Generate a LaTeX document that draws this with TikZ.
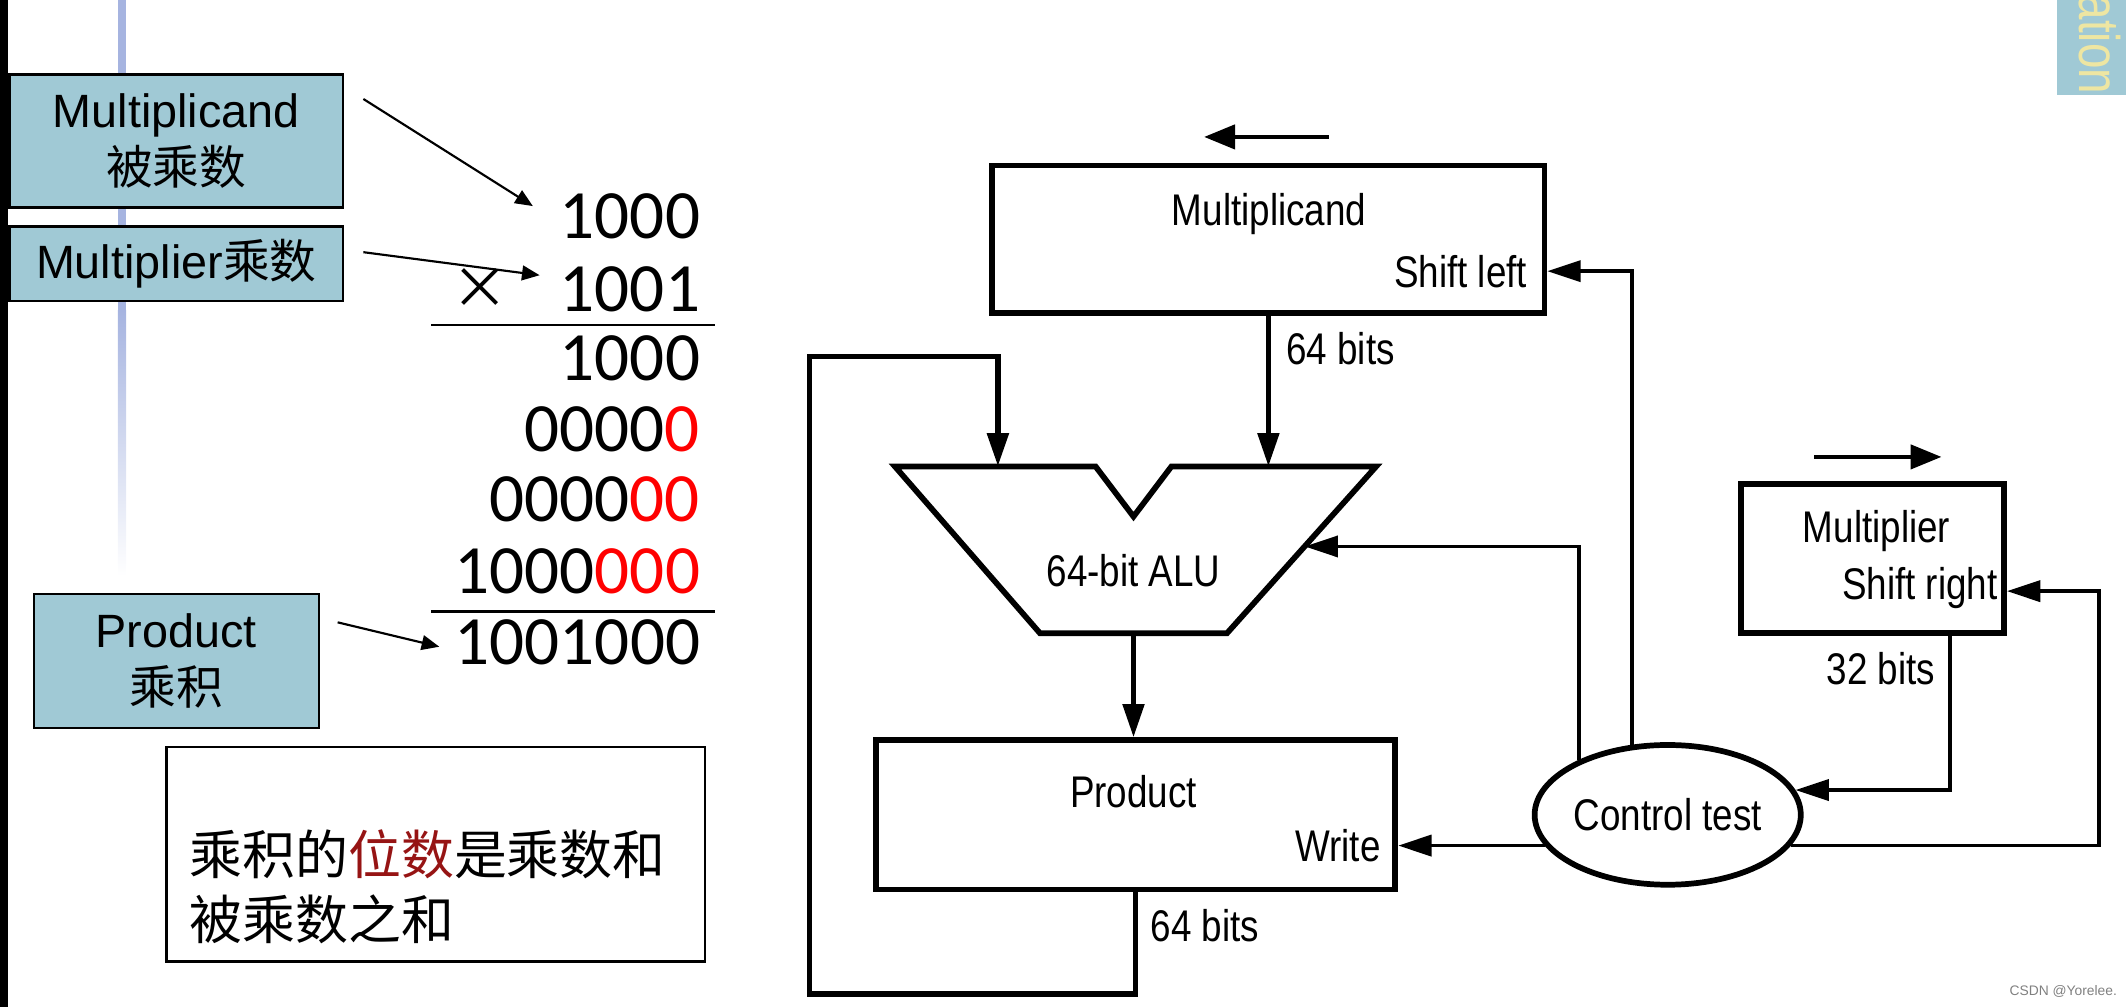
\documentclass[tikz,border=0pt]{standalone}
\usepackage{fontspec}
\setmainfont{Liberation Sans}
\newfontfamily\cjk{Noto Sans CJK SC}
\newfontfamily\digitfont{Carlito}
\newfontfamily\dpfont{Liberation Sans}[FakeStretch=0.83]
\newfontfamily\tabfont{Liberation Sans}[FakeStretch=0.8]
\usepackage{xcolor}
\usetikzlibrary{shapes.geometric,arrows.meta,calc}
\definecolor{tagblue}{RGB}{160,201,213}
\definecolor{railblue}{RGB}{166,180,224}
\definecolor{darkred}{RGB}{150,20,20}
\definecolor{tabyellow}{RGB}{238,230,162}

\begin{document}
\begin{tikzpicture}[x=0.01cm,y=-0.01cm,line join=miter,
  tag/.style={draw,fill=tagblue,line width=0.5pt,inner sep=0pt,align=center,font=\fontsize{9.8}{11.9}\selectfont},
  digs/.style={anchor=base east,inner sep=0pt,font=\digitfont\fontsize{14.5}{17}\selectfont},
  ptr/.style={-{Triangle[length=3.7pt,width=3.1pt]},line width=0.45pt},
  reg/.style={draw,line width=1.2pt,inner sep=0pt},
  lbl/.style={inner sep=0pt,font=\dpfont\fontsize{9.3}{11}\selectfont},
  flow/.style={-{Triangle[length=7pt,width=4.4pt]},line width=0.8pt},
  data/.style={-{Triangle[length=7pt,width=4.4pt]},line width=1.1pt},
  bus/.style={-{Triangle[length=7pt,width=4.4pt]},line width=1.2pt},
  dir/.style={-{Triangle[length=6.5pt,width=5pt]},line width=1pt}]
\clip (0,0) rectangle (1568,743);
%%
\fill (0,0) rectangle (6,743);
\fill[railblue] (87,0) rectangle (93,230);
\shade[top color=railblue,bottom color=white] (87,229) rectangle (93,425);
\fill[tagblue] (1517,0) rectangle (1568,70);
\node (tab) at (1534,70) [rotate=-90,anchor=base east,inner sep=0pt,text=tabyellow,font=\tabfont\fontsize{12}{14}\selectfont] {ation};
%% paper multiplication
  \node (mcandtag) at (130,104) [tag,minimum width=2.46cm,minimum height=0.98cm] {Multiplicand\\{\cjk 被乘数}};
  \node (mplrtag) at (130,194.5) [tag,minimum width=2.46cm,minimum height=0.55cm] {Multiplier{\cjk 乘数}};
  \node (prodtag) at (130,487.5) [tag,minimum width=2.10cm,minimum height=0.99cm] {Product\\{\cjk 乘积}};
  \node (n1) at (517,176) [digs] {1000};
  \node (times) at (354,213) [inner sep=0pt,font=\cjk\fontsize{12}{14}\selectfont] {×};
  \node (n2) at (517,230) [digs] {1001};
  \node (n3) at (517,281) [digs] {1000};
  \node (n4) at (517,333) [digs] {0000\textcolor{red}{0}};
  \node (n5) at (517,385) [digs] {0000\textcolor{red}{00}};
  \node (n6) at (517,438) [digs] {1000\textcolor{red}{000}};
  \node (n7) at (517,490) [digs] {1001000};
  \node (sumbox) at (321.5,630) [draw,line width=0.5pt,minimum width=3.97cm,minimum height=1.58cm] {};
  \node (sumtxt) at (139,654) [anchor=west,inner sep=0pt,align=left,font=\cjk\fontsize{11.1}{13.7}\selectfont] {乘积的\textcolor{darkred}{位数}是乘数和\\被乘数之和};
  \coordinate (p1a) at (268,73);
  \coordinate (p1b) at (393,152);
  \coordinate (p2a) at (268,186);
  \coordinate (p2b) at (398,203);
  \coordinate (p3a) at (249,459);
  \coordinate (p3b) at (324,477);
  \draw [ptr] (p1a) -- (p1b);
  \draw [ptr] (p2a) -- (p2b);
  \draw [ptr] (p3a) -- (p3b);
  \draw [line width=0.45pt] (318,240) -- (527,240);
  \draw [line width=0.45pt] (318,451) -- (527,451);
%% datapath
  \node (mcand) at (935.5,176.5) [reg,minimum width=4.07cm,minimum height=1.09cm] {};
  \node (mcandname) at (936,158) [lbl] {Multiplicand};
  \node (shl) at (1127,200) [lbl,anchor=east] {Shift left};
  \node (bits1) at (948,257) [lbl,anchor=west] {64 bits};
  \coordinate (alu-tl) at (660,344);
  \coordinate (alu-n1) at (808,344);
  \coordinate (alu-v) at (836,381);
  \coordinate (alu-n2) at (864,344);
  \coordinate (alu-tr) at (1015,344);
  \coordinate (alu-br) at (905,467);
  \coordinate (alu-bl) at (767,467);
  \draw [line width=1.2pt] (alu-tl) -- (alu-n1) -- (alu-v) -- (alu-n2) -- (alu-tr) -- (alu-br) -- (alu-bl) -- cycle;
  \node (alu) at (836,421) [lbl] {64-bit ALU};
  \node (prod) at (837.5,601) [reg,minimum width=3.83cm,minimum height=1.10cm] {};
  \node (prodname) at (836,584) [lbl] {Product};
  \node (wr) at (1019,624) [lbl,anchor=east] {Write};
  \node (bits2) at (848,683) [lbl,anchor=west] {64 bits};
  \node (ctrl) at (1230,601) [reg,ellipse,minimum width=1.96cm,minimum height=1.03cm,font=\dpfont\fontsize{9.3}{11}\selectfont] {Control test};
  \node (mplier) at (1381,412) [reg,minimum width=1.94cm,minimum height=1.10cm] {};
  \node (mpliername) at (1384,392) [lbl] {Multiplier};
  \node (shr) at (1474,434) [lbl,anchor=east] {Shift right};
  \node (bits3) at (1428,493) [lbl,anchor=east] {32 bits};
  \coordinate (shl-a) at (980,101);
  \coordinate (shl-b) at (888,101);
  \coordinate (shr-a) at (1338,337);
  \coordinate (shr-b) at (1432,337);
  \coordinate (alu-in) at (736,344);
  \coordinate (alu-out) at (836,467);
  \coordinate (alu-rin) at ($(alu-tr)!0.48!(alu-br)$);
  \coordinate (lp-bl) at (597,733);
  \coordinate (lp-tl) at (597,263);
  \coordinate (m32) at (1438,467);
  \coordinate (srt) at (1548,436);
  \draw [dir] (shl-a) -- (shl-b);
  \draw [dir] (shr-a) -- (shr-b);
  \draw [data] (mcand.south) -- (mcand.south |- alu-tr);
  \draw [bus] (prod.south) |- (lp-bl) -- (lp-tl) -| (alu-in);
  \draw [data] (alu-out) -- (alu-out |- prod.north);
  \draw [flow] (ctrl.194) -- (ctrl.194 -| prod.east);
  \draw [flow] (ctrl.117.5) |- (mcand.east |- shl);
  \draw [flow] (ctrl.148.7) |- (alu-rin);
  \draw [flow] (m32) |- (ctrl.11.8);
  \draw [flow] (ctrl.-14) -| (srt) -- (mplier.east |- srt);
  \node (wm) at (1562,731) [anchor=east,inner sep=0pt,text=gray,font=\fontsize{2.9}{3.5}\selectfont] {CSDN @Yorelee.};
%
\end{tikzpicture}
\end{document}
